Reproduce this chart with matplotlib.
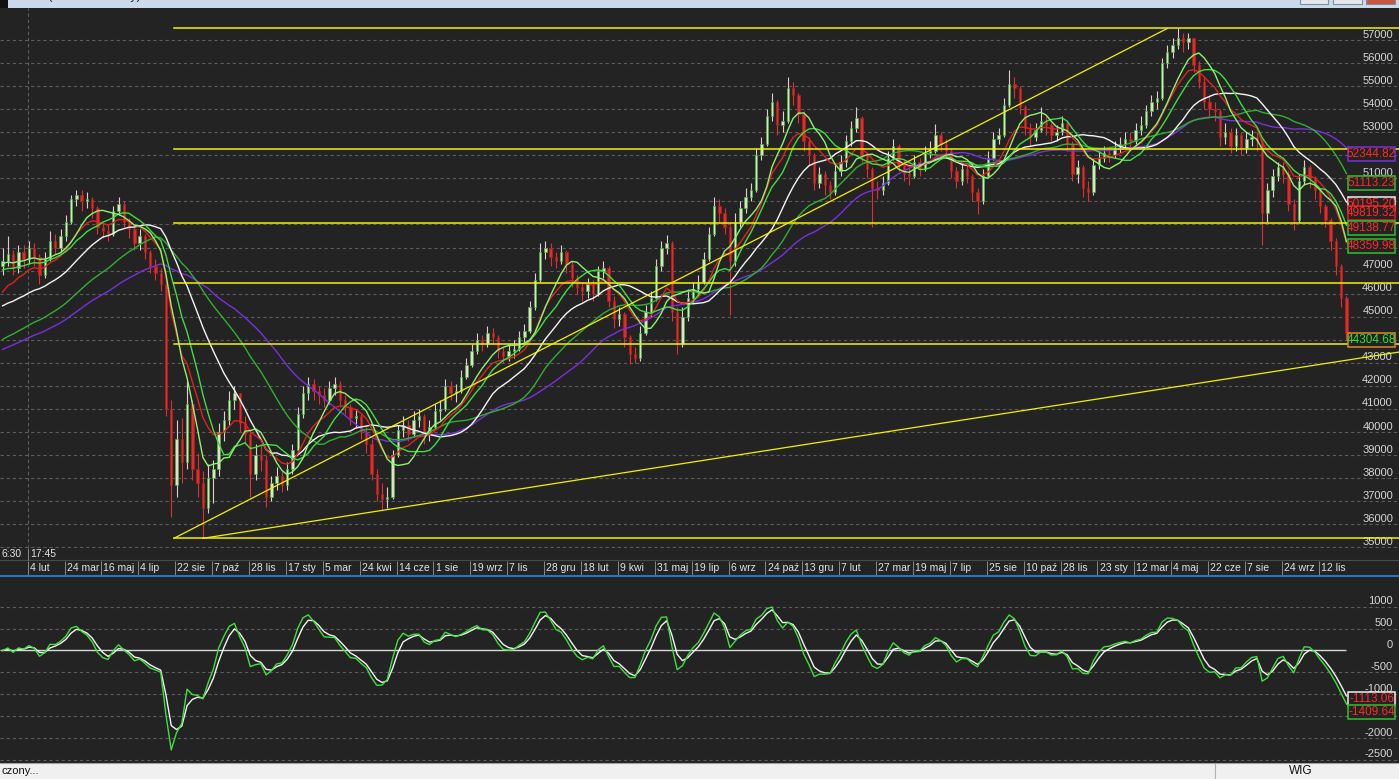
import numpy as np
import matplotlib
matplotlib.use('Agg')
import matplotlib.pyplot as plt
from matplotlib.patches import Rectangle
from matplotlib.transforms import blended_transform_factory as blend

plt.rcParams['font.family'] = ['Liberation Sans', 'DejaVu Sans']

# weekly bars of the WIG index (one bar ~ one week)
open0 = 47200
close = [47400, 47700, 47100, 47800, 47500, 48000, 47600, 46800, 47500, 48300,
         48000, 48500, 49100, 50100, 50300, 50000, 50100, 49700, 48900, 48700,
         48600, 49600, 49900, 49100, 48800, 48200, 48500, 47800, 47200, 46900,
         46400, 41000, 37700, 39700, 38700, 41200, 38400, 37800, 36700, 38000,
         38400, 40000, 40500, 41400, 41700, 40400, 39900, 38200, 39000, 38800,
         37200, 37800, 38100, 37700, 38400, 39200, 40800, 41700, 42100, 41800,
         41600, 41400, 41900, 42100, 41400, 41100, 40600, 40700, 40000, 39500,
         38200, 37300, 37100, 37200, 39000, 40100, 40300, 39900, 40500, 40700,
         40000, 40200, 40900, 41000, 42000, 41700, 41800, 42400, 42900, 43500,
         44000, 43800, 44300, 44100, 43500, 43300, 43500, 43600, 44100, 44400,
         45400, 46600, 47800, 48000, 47600, 47400, 47800, 47300, 46700, 46300,
         46100, 46400, 46000, 47000, 47100, 45700, 44900, 45100, 44100, 43400,
         43200, 44300, 45200, 45800, 47200, 48000, 48200, 45200, 43800, 45000,
         45800, 46200, 46500, 47500, 48600, 49800, 49500, 48900, 47400, 49100,
         49700, 50200, 50500, 52000, 52500, 53700, 54300, 53300, 53500, 54900,
         54600, 53800, 52600, 52000, 50800, 51200, 50700, 50400, 51300, 51700,
         52600, 53200, 53600, 52000, 51400, 50600, 50500, 50800, 51900, 52400,
         51600, 51200, 51100, 51700, 51400, 52100, 52200, 52900, 52500, 52200,
         51300, 50900, 51400, 51100, 50400, 50000, 51100, 51900, 52700, 52900,
         54200, 55100, 54900, 54100, 53200, 52800, 53100, 53500, 53300, 52900,
         53000, 53400, 52500, 51200, 51500, 50600, 50400, 51600, 51900, 52100,
         52000, 52300, 52500, 52700, 52600, 53100, 53300, 53900, 54300, 54500,
         56000, 56500, 56800, 57100, 56900, 57100, 55900, 55200, 54300, 54000,
         53900, 52800, 53000, 52400, 52900, 52300, 52700, 52800, 52600, 49500,
         50500, 51100, 51500, 51200, 49900, 49200, 50900, 51500, 51000, 50500,
         49800, 49200, 48300, 47200, 45800, 44304.68]
high = [48000, 48500, 47900, 48100, 48100, 48300, 48200, 47700, 47800, 48700,
        48600, 48800, 49400, 50300, 50500, 50500, 50400, 50200, 49800, 49100,
        49000, 49800, 50200, 50000, 49300, 48900, 48800, 48600, 47900, 47500,
        47100, 46500, 41400, 40500, 40600, 42200, 41400, 39100, 38300, 38600,
        38800, 40400, 40900, 41800, 42000, 41700, 40700, 40000, 39500, 39500,
        39000, 38100, 38500, 38300, 38700, 39500, 41100, 42000, 42400, 42300,
        42000, 41900, 42200, 42400, 42200, 41600, 41200, 41000, 40800, 40200,
        39700, 38400, 37800, 37600, 39200, 40300, 40700, 40500, 40900, 41000,
        40800, 40500, 41200, 41400, 42300, 42200, 42100, 42700, 43200, 43800,
        44300, 44200, 44600, 44500, 44200, 43700, 43800, 44000, 44400, 44700,
        45700, 46900, 48200, 48300, 48200, 47800, 48100, 47900, 47400, 46800,
        46500, 46700, 46600, 47200, 47400, 47200, 45900, 45400, 45200, 44200,
        43700, 44600, 45500, 46100, 47500, 48300, 48550, 48300, 45400, 45400,
        46200, 46500, 46800, 47800, 48900, 50200, 50100, 49700, 49100, 49500,
        50000, 50600, 50800, 52300, 52800, 54000, 54700, 54400, 53900, 55400,
        55200, 54700, 53900, 52800, 52100, 51500, 51300, 50900, 51600, 52000,
        52900, 53500, 54100, 53700, 52100, 51500, 50900, 51100, 52200, 52700,
        52500, 51800, 51500, 52000, 51900, 52400, 52600, 53350, 53000, 52700,
        52300, 51500, 51700, 51600, 51200, 50600, 51400, 52200, 53000, 53200,
        54500, 55700, 55400, 55000, 54200, 53400, 53400, 54100, 53700, 53400,
        53300, 53700, 53500, 52600, 51800, 51600, 50900, 51900, 52200, 52400,
        52400, 52600, 52800, 53000, 53000, 53400, 53700, 54200, 54600, 54800,
        56200, 56800, 57100, 57500, 57300, 57300, 57100, 56100, 55400, 54600,
        54300, 54000, 53400, 53200, 53200, 53000, 53000, 53100, 53000, 52700,
        50800, 51400, 51700, 51700, 51300, 50100, 51200, 51800, 51600, 51100,
        50600, 49900, 49300, 48400, 47300, 45900]
low = [46800, 47200, 46800, 46900, 47100, 47300, 47200, 46400, 46700, 47400,
       47700, 47800, 48300, 49000, 49800, 49600, 49700, 49300, 48600, 48400,
       48300, 48500, 49400, 48900, 48400, 47900, 47900, 47500, 46900, 46600,
       46100, 40700, 36300, 37200, 37800, 38400, 37900, 37200, 35390, 36500,
       36900, 38100, 39600, 40300, 41000, 40000, 39500, 37200, 37900, 38300,
       36740, 37000, 37500, 37400, 37500, 38200, 39100, 40600, 41400, 41400,
       41200, 41100, 41200, 41600, 41100, 40800, 40300, 40200, 39700, 39100,
       37900, 37000, 36600, 36700, 37100, 38900, 39800, 39600, 39800, 40200,
       39500, 39600, 40100, 40500, 40900, 41400, 41300, 41700, 42300, 42800,
       43400, 43500, 43700, 43800, 43200, 43000, 43100, 43200, 43500, 43900,
       44300, 45300, 46500, 47500, 47200, 47100, 47300, 46900, 46300, 46000,
       45700, 45800, 45700, 45900, 46700, 45400, 44500, 44600, 43700, 42960,
       43000, 43100, 44200, 45000, 45700, 47000, 47700, 44800, 43400, 43700,
       44800, 45600, 45900, 46400, 47400, 48500, 49100, 48600, 45060, 47200,
       48900, 49500, 50000, 50400, 51800, 52400, 53500, 52900, 53000, 53400,
       54200, 53400, 52200, 51600, 50500, 50600, 50300, 50100, 50300, 51100,
       51500, 52400, 53000, 51700, 51000, 48900, 50100, 50300, 50700, 51800,
       51300, 50900, 50700, 51000, 51100, 51300, 51900, 52100, 52200, 51900,
       51000, 50600, 50700, 50800, 50000, 49460, 49900, 51000, 51800, 52500,
       52800, 54100, 54500, 53800, 52900, 52400, 52600, 53000, 52900, 52600,
       52600, 52900, 52200, 50900, 50800, 50200, 50030, 50300, 51400, 51700,
       51700, 51900, 52100, 52300, 52300, 52500, 52900, 53200, 53700, 54000,
       54400, 55800, 56200, 56600, 56500, 56600, 55600, 54900, 54000, 53600,
       53500, 52400, 52500, 52100, 52200, 52000, 52100, 52400, 52200, 48090,
       49100, 50200, 50900, 50800, 49600, 48740, 49100, 50700, 50600, 50100,
       49500, 48900, 47900, 46800, 45400, 44000]

# moving averages: kind, length in sessions, level at the first bar, value in the tag
ma_kind = ['sma', 'sma', 'sma', 'ema', 'sma', 'sma']
ma_days = [200, 150, 100, 50, 60, 40]
ma_seed = [43480, 43900, 45370, 45800, 47000, 47300]
ma_tags = [52344.82, 51113.23, 50195.20, 49819.32, 49138.77, 48359.98]
macd_days = [12, 26, 9]
osc_tags = [-1113.06, -1409.64]

date_labels = ['6 gru', '4 lut', '24 mar', '16 maj', '4 lip', '22 sie', '7 paź', '28 lis',
               '17 sty', '5 mar', '24 kwi', '14 cze', '1 sie', '19 wrz', '7 lis', '28 gru',
               '18 lut', '9 kwi', '31 maj', '19 lip', '6 wrz', '24 paź', '13 gru', '7 lut',
               '27 mar', '19 maj', '7 lip', '25 sie', '10 paź', '28 lis', '23 sty', '12 mar',
               '4 maj', '22 cze', '7 sie', '24 wrz', '12 lis']
first_date_bar = -2.25   # bar where "6 gru" starts
date_step = 7            # weeks between date labels
fib_start_bar = 32.5
fib_ratios = [0, 0.236, 0.382, 0.5, 0.618, 1.0]
trend1_bars = [32.5, 221]
trend2_bars = [38, 72]

BG = '#232323'
W, H = 1399, 779
n = len(close)
x = np.arange(n)
opens = np.array([open0] + close[:-1])
close = np.array(close)
high = np.array(high)
low = np.array(low)


def ema(values, days, seed):
    # smoothing matched to the lag of a daily EMA, on weekly bars
    a = 1.0 / (1 + (days - 1) / 10.0)
    out, prev = [], seed
    for v in values:
        prev = prev + a * (v - prev)
        out.append(prev)
    return np.array(out)


def sma(values, days, seed):
    k = max(1, int(round(days / 5)))
    padded = np.concatenate([np.full(k - 1, seed), values])
    return np.convolve(padded, np.ones(k) / k, mode='valid')


def px_rect(x0, y0, x1, y1):
    return [x0 / W, 1 - y1 / H, (x1 - x0) / W, (y1 - y0) / H]


fig = plt.figure(figsize=(W / 100, H / 100), dpi=100, facecolor=BG)
xlim = (-2.6 / 5.27, (W - 2.6) / 5.27)
box_x0, box_w = 1348 / W, 47 / W


def tag(axis, trans, value, text, edge, tcolor, h, center=False):
    y0 = value - h / 2 if center else value - h
    axis.add_patch(Rectangle((box_x0, y0), box_w, h, transform=trans, facecolor=BG,
                             edgecolor=edge, lw=1.1, zorder=6, clip_on=False))
    axis.text(box_x0 + box_w / 2, y0 + h / 2, text, transform=trans, ha='center', va='center',
              color=tcolor, fontsize=8.5, zorder=7)


def hidden(v, spans, per_px):
    # axis label [v, v + 11px] mostly under a tag box
    for lo_, hi_ in spans:
        if min(hi_, v + 11 * per_px) - max(lo_, v) > 3 * per_px:
            return True
    return False


# ---------------- price panel ----------------
ax = fig.add_axes(px_rect(0, 8, W, 548))
ax.set_facecolor(BG)
ax.set_xlim(*xlim)
ax.set_ylim(34970, 58388)
ax.axis('off')
tr = blend(ax.transAxes, ax.transData)
per_px = (58388 - 34970) / 540.0
box_h = 14 * per_px
spans = [(t - box_h, t) for t in ma_tags + [close[-1]]]

for v in range(35000, 58000, 1000):
    ax.axhline(v, color='#5c5c5c', lw=0.8, ls=(0, (3, 2.5)), zorder=1)
    if not hidden(v, spans, per_px):
        ax.text(0.9957, v + 0.5 * per_px, str(v), transform=tr, ha='right', va='bottom',
                color='#d6d6d6', fontsize=8, zorder=3)
ax.axvline(first_date_bar + date_step, color='#5c5c5c', lw=0.8, ls=(0, (3, 2.5)), zorder=1)

# fibonacci levels and trend lines
lo, hi = low.min(), high.max()
for r in fib_ratios:
    ax.plot([fib_start_bar, xlim[1]], [hi - r * (hi - lo)] * 2, color='#f2f200', lw=1.1, zorder=4)
ax.plot(trend1_bars, [lo, hi], color='#f2f200', lw=0.9, zorder=4)
a, b = trend2_bars
slope = (low[b] - low[a]) / (b - a)
ax.plot([a, xlim[1]], [low[a], low[a] + slope * (xlim[1] - a)], color='#f2f200', lw=0.9, zorder=4)

# candles
up = close >= opens
ax.vlines(x[up], low[up], high[up], color='#e6cccc', lw=0.8, zorder=2)
ax.vlines(x[~up], low[~up], high[~up], color='#e03030', lw=0.8, zorder=2)
body_lo = np.minimum(opens, close)
body_h = np.maximum(np.abs(close - opens), 60)
ax.bar(x[up], body_h[up], bottom=body_lo[up], width=0.45, color='#f3d3d3',
       edgecolor='#2fbf2f', lw=0.5, zorder=2)
ax.bar(x[~up], body_h[~up], bottom=body_lo[~up], width=0.45, color='#e32a2a',
       edgecolor='#b02020', lw=0.5, zorder=2)

ma_colors = ['#7a2fe0', '#30b030', '#f4f4f4', '#e42020', '#3fe03f', '#8cf46e']
for kind, d, s, c in zip(ma_kind, ma_days, ma_seed, ma_colors):
    line = sma(close, d, s) if kind == 'sma' else ema(close, d, s)
    ax.plot(x, line, color=c, lw=1.0, zorder=3)

for val, edge in zip(ma_tags, ['#7a2fe0', '#30c030', '#f0f0f0', '#e02020', '#30c030', '#30c030']):
    tag(ax, tr, val, f'{val:.2f}', edge, '#ff2a2a', box_h)
tag(ax, tr, close[-1], f'{close[-1]:.2f}', '#d88a2a', '#35e035', box_h)

# ---------------- date strip ----------------
axd = fig.add_axes(px_rect(0, 548, W, 577))
axd.set_facecolor(BG)
axd.set_xlim(*xlim)
axd.set_ylim(0, 1)
axd.axis('off')
axd.axhline(0.58, color='#4a4a4a', lw=0.8)
seps = first_date_bar + date_step * np.arange(len(date_labels))
axd.vlines(seps, 0.05, 0.55, color='#8a8a8a', lw=0.7)
for s, lab in zip(seps, date_labels):
    axd.annotate(lab, (s, 0.3), xytext=(1.5, 0), textcoords='offset points',
                 ha='left', va='center', color='#e4e4e4', fontsize=7.5, clip_on=True)
axd.vlines(seps[1], 0.6, 1.0, color='#8a8a8a', lw=0.7)
axd.text(0.001, 0.8, '6:30', transform=axd.transAxes, ha='left', va='center',
         color='#e4e4e4', fontsize=7.5)
axd.annotate('17:45', (seps[1], 0.8), xytext=(1.5, 0), textcoords='offset points',
             ha='left', va='center', color='#e4e4e4', fontsize=7.5)
fig.patches.append(Rectangle((0, 1 - 577 / H), 1, 2 / H, transform=fig.transFigure,
                             facecolor='#1f78c8', edgecolor='none'))

# ---------------- oscillator panel ----------------
axm = fig.add_axes(px_rect(0, 578, W, 761))
axm.set_facecolor(BG)
axm.set_xlim(*xlim)
axm.set_ylim(-2523, 1655)
axm.axis('off')
trm = blend(axm.transAxes, axm.transData)
per_px_m = (1655 + 2523) / 183.0
box_hm = 14 * per_px_m
spans_m = [(t - box_hm / 2, t + box_hm / 2) for t in osc_tags]
for v in range(-2500, 1001, 500):
    if v != 0:
        axm.axhline(v, color='#5c5c5c', lw=0.8, ls=(0, (3, 2.5)), zorder=1)
    if not hidden(v, spans_m, per_px_m):
        axm.text(0.9957, v + 0.5 * per_px_m, str(v), transform=trm, ha='right', va='bottom',
                 color='#d6d6d6', fontsize=8, zorder=3)
axm.hlines(0, xlim[0], x[-1], color='#d8d8d8', lw=1.0, zorder=2)

macd = ema(close, macd_days[0], close[0]) - ema(close, macd_days[1], close[0])
signal = ema(macd, macd_days[2], 0.0)
axm.plot(x, signal, color='#f4f4f4', lw=1.0, zorder=3)
axm.plot(x, macd, color='#3fe03f', lw=1.0, zorder=4)
tag(axm, trm, osc_tags[0], f'{osc_tags[0]:.2f}', '#f0f0f0', '#ff2a2a', box_hm, center=True)
tag(axm, trm, osc_tags[1], f'{osc_tags[1]:.2f}', '#30c030', '#ff2a2a', box_hm, center=True)

# ---------------- window chrome ----------------
fig.patches.append(Rectangle((0, 1 - 8 / H), 1, 8 / H, transform=fig.transFigure,
                             facecolor='#cbd9ea', edgecolor='none'))
fig.patches.append(Rectangle((0, 1 - 8 / H), 8 / W, 8 / H, transform=fig.transFigure,
                             facecolor='#111111', edgecolor='none'))
fig.text(20 / W, 1 - 2.5 / H, 'WIG (1440 minutowy)', ha='left', va='bottom',
         fontsize=9, color='#222222')
for x0, x1, c in [(1300, 1328, '#e4e9ef'), (1333, 1362, '#e4e9ef'), (1366, 1395, '#c9553f')]:
    fig.patches.append(Rectangle((x0 / W, 1 - 4 / H), (x1 - x0) / W, 5 / H,
                                 transform=fig.transFigure, facecolor=c,
                                 edgecolor='#7f8fa3', lw=0.8))

fig.patches.append(Rectangle((0, 0), 1, 16 / H, transform=fig.transFigure,
                             facecolor='#f0f0f0', edgecolor='none'))
fig.lines.append(plt.Line2D([0, 1], [16 / H, 16 / H], transform=fig.transFigure,
                            color='#a0a0a0', lw=0.8))
fig.lines.append(plt.Line2D([1215 / W, 1215 / W], [0, 15 / H], transform=fig.transFigure,
                            color='#b0b0b0', lw=0.8))
fig.text(1 / W, 8 / H, 'czony...', ha='left', va='center', fontsize=8, color='#111111')
fig.text(1301 / W, 8 / H, 'WIG', ha='center', va='center', fontsize=8.5, color='#111111')

fig.savefig('out.png', dpi=100, facecolor=BG)
